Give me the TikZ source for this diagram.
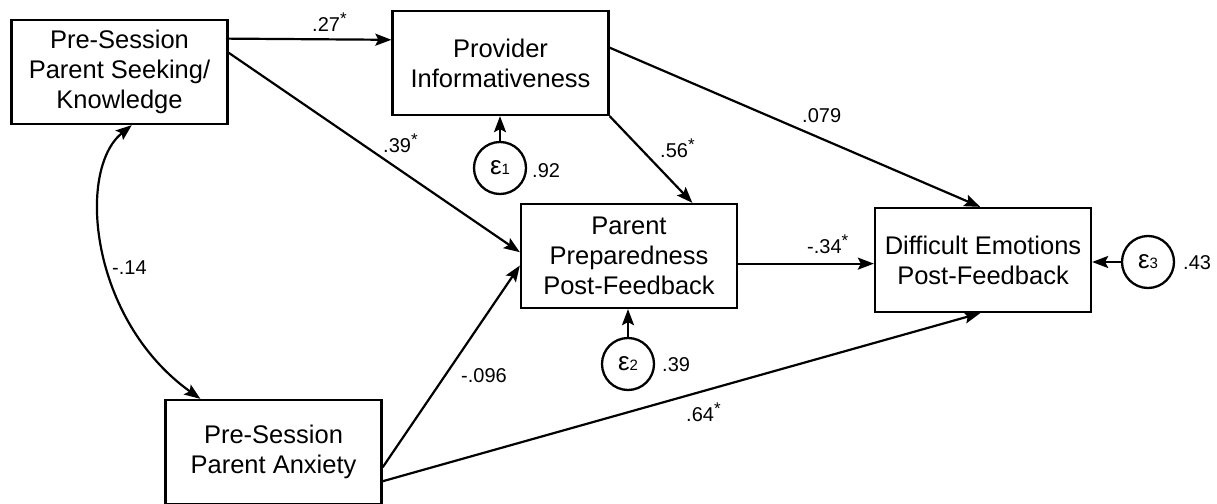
\documentclass[tikz,border=0pt]{standalone}
\usepackage{fontspec}
\setmainfont{Liberation Sans}
\usetikzlibrary{arrows.meta}
\tikzset{box/.style={draw,line width=2.3pt,align=center,minimum width=216pt,minimum height=104pt,inner sep=0pt,font=\fontsize{25.5}{30}\selectfont},
err/.style={draw,circle,line width=2.3pt,minimum size=52pt,inner sep=0pt,font=\fontsize{26}{26}\selectfont},
tip/.tip={Stealth[length=16pt,width=12pt,inset=3pt]},
arr/.style={-tip,line width=2.2pt},
dbl/.style={tip-tip,line width=2.2pt},
lab/.style={anchor=base west,inner sep=0pt,font=\fontsize{20}{20}\selectfont}}
\newcommand{\eps}[1]{ε{\fontsize{15}{15}\selectfont #1}}
\newcommand{\sig}{\raisebox{7pt}{\fontsize{17}{17}\selectfont *}}

\begin{document}
\begin{tikzpicture}[x=1pt,y=-1pt]
\useasboundingbox(0,0)rectangle(1217,503);
% variables
\node[box](seek)at(119.5,72){Pre-Session\\Parent Seeking/\\Knowledge};
\node[box](prov)at(500.5,63){Provider\\Informativeness};
\node[box](prep)at(629,256){Parent\\Preparedness\\Post-Feedback};
\node[box](emo)at(983,260){Difficult Emotions\\Post-Feedback};
\node[box](anx)at(273.5,452){Pre-Session\\Parent Anxiety};
% error terms
\node[err](e1)at(500,168){\eps{1}};\node[err](e2)at(628,364){\eps{2}};\node[err](e3)at(1148,262){\eps{3}};
% paths
\draw[arr](seek.17)--(prov.168);
\draw[arr](seek.10)--(prep.178);
\draw[arr](prov.8)--(emo.93);
\draw[arr](prov.south east)--(prep.40);
\draw[arr](prep.-4)--(prep.-4 -| emo.west);
\draw[arr](anx.-8)--(prep.185);
\draw[arr](anx.-15)--(emo.267);
\draw[arr](e1)--(e1 |- prov.south);\draw[arr](e2)--(e2 |- prep.south);\draw[arr](e3)--(e3 -| emo.east);
\draw[dbl](seek.-77) .. controls (76,170) and (90,320) .. (anx.144);
% estimates
\node[lab](w1)at(312,32){.27\sig};
\node[lab](w2)at(383,152){.39\sig};
\node[lab](w3)at(802,122){.079};
\node[lab](w4)at(660,157){.56\sig};
\node[lab](w5)at(807,253){-.34\sig};
\node[lab](w6)at(461,382){-.096};
\node[lab](w7)at(686,421){.64\sig};
\node[lab](w8)at(112,274){-.14};
\node[lab](v1)at(532,177){.92};\node[lab](v2)at(662,371){.39};\node[lab](v3)at(1183,269){.43};
\end{tikzpicture}
\end{document}
